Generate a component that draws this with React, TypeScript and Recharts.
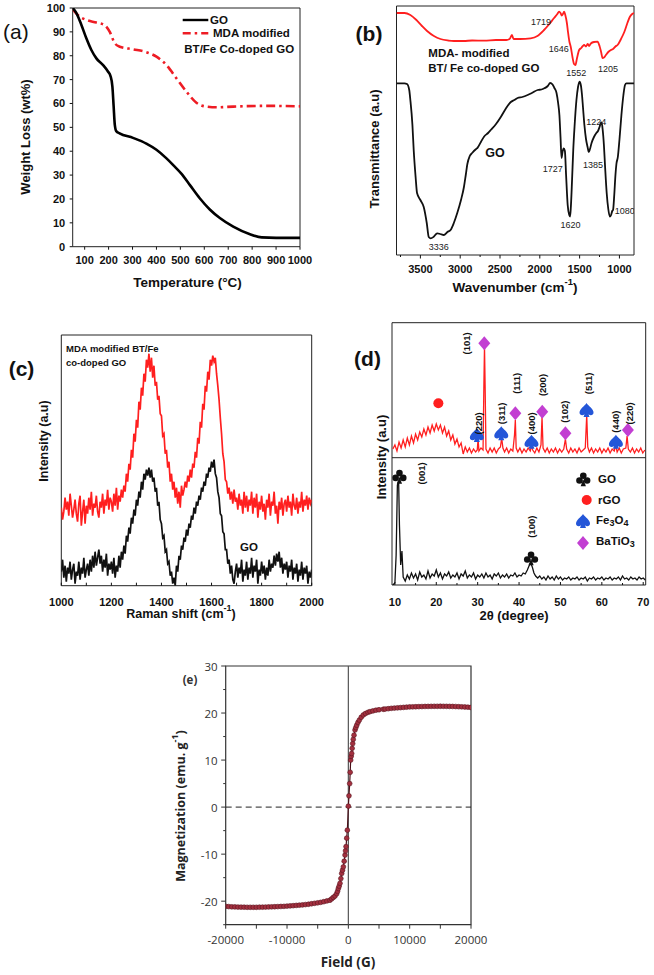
import React from 'react';
import { ComposedChart, Line, Scatter, XAxis, YAxis, ReferenceArea, ReferenceLine } from 'recharts';

const ARIAL = '"Liberation Sans", Arial, Helvetica, sans-serif';
const SANS = '"Open Sans", "Noto Sans", sans-serif';

// ---------------- (a) TGA ----------------
const tgaGO: [number, number][] = [
  [50, 100], [65, 98], [86, 93], [107, 87.3], [128, 82.4], [149, 78.9], [177, 76.1], [198, 73.3],
  [208, 71.5], [216, 67], [221, 59], [226, 51], [232, 48.4], [246, 47.5], [302, 45.6], [358, 43.2],
  [400, 40.6], [442, 37], [470, 34.2], [505, 30.5], [540, 25.8], [581, 20.3], [623, 15.6], [665, 12],
  [721, 8.4], [791, 5.2], [840, 3.9], [900, 3.7], [1000, 3.7],
];
const tgaMDA: [number, number][] = [
  [50, 99.5], [72, 97], [107, 95], [149, 93.9], [184, 92.8], [205, 90], [226, 85.2], [247, 83.8],
  [302, 82.7], [358, 81.5], [400, 79.6], [442, 76.1], [484, 70.5], [526, 64.9], [567, 60.3],
  [609, 58.7], [651, 58.4], [721, 58.7], [860, 59], [1000, 58.8],
];
const tgaXTicks = [100, 200, 300, 400, 500, 600, 700, 800, 900, 1000];
const tgaYTicks = [0, 10, 20, 30, 40, 50, 60, 70, 80, 90, 100];

// ---------------- (b) FTIR ----------------
const ftirMDA: [number, number][] = [
  [3800, 242], [3700, 242], [3626, 240], [3550, 235], [3480, 229], [3416, 224], [3330, 219], [3248, 216],
  [3150, 214.5], [3080, 214], [2955, 214], [2850, 214.5], [2700, 214.3], [2550, 215], [2420, 215],
  [2380, 216], [2350, 220], [2330, 216], [2250, 216], [2115, 216.7], [2030, 219], [1947, 225],
  [1880, 231], [1821, 237], [1780, 241], [1758, 243.3], [1740, 242], [1724, 239.5], [1710, 241],
  [1695, 243.3], [1680, 240], [1660, 232], [1646, 223], [1630, 214], [1611, 208], [1590, 198],
  [1570, 191], [1552, 190], [1535, 196], [1506, 205], [1480, 207], [1460, 209], [1443, 210],
  [1420, 208.5], [1400, 211], [1380, 209], [1359, 211.5], [1320, 213], [1275, 213.3], [1250, 209],
  [1230, 203], [1212, 197], [1195, 197.5], [1170, 200], [1140, 203], [1107, 205], [1080, 206],
  [1050, 208.5], [1023, 210], [980, 216], [939, 223], [900, 232], [870, 238], [840, 241], [817, 242],
];
const ftirGO: [number, number][] = [
  [3800, 171.7], [3700, 171.7], [3668, 171], [3640, 165], [3626, 155], [3600, 130], [3584, 105],
  [3560, 78], [3542, 62], [3500, 55], [3458, 48], [3420, 32], [3395, 18], [3370, 16.7], [3336, 18],
  [3289, 21.7], [3250, 21], [3206, 20], [3160, 23], [3121, 25], [3080, 32], [3037, 42], [2990, 55],
  [2953, 68], [2930, 80], [2910, 91], [2880, 99], [2850, 102], [2800, 106], [2784, 107], [2740, 113],
  [2701, 118.3], [2650, 122], [2616, 125], [2550, 131], [2490, 138], [2430, 146], [2364, 153],
  [2320, 155], [2279, 157], [2220, 158], [2153, 160], [2100, 162], [2027, 165], [1980, 165.5],
  [1943, 166.7], [1900, 169], [1870, 172], [1840, 170.5], [1817, 167], [1790, 162], [1770, 152],
  [1754, 140], [1740, 118], [1727, 97], [1715, 103], [1700, 106.7], [1685, 104], [1670, 80],
  [1650, 50], [1630, 40], [1620, 38.5], [1610, 48], [1595, 75], [1580, 105], [1564, 128],
  [1540, 155], [1520, 168], [1501, 173.3], [1485, 170], [1470, 160], [1458, 148], [1440, 130],
  [1420, 116], [1400, 108], [1385, 103], [1370, 106], [1350, 112], [1320, 118], [1290, 122],
  [1269, 124], [1250, 128], [1235, 131.7], [1224, 132.5], [1210, 125], [1195, 110], [1180, 88],
  [1160, 62], [1140, 46], [1120, 38.3], [1105, 40], [1090, 44], [1080, 45], [1065, 60], [1050, 80],
  [1038, 91], [1020, 98], [1000, 115], [975, 140], [950, 160], [930, 170], [912, 171.7], [817, 171.7],
];
const ftirPeakText = ['1719', '1646', '1552', '1205', '1224', '1727', '1385', '1620', '1080', '3336'];
const ftirPeakW = [1985, 1761, 1543, 1143, 1290, 1837, 1332, 1615, 933, 3269];
const ftirPeakV = [233.3, 205.7, 182.3, 185.7, 133, 85.7, 90, 29.7, 44.3, 7.7];
const ftirTicks = [3750, 3500, 3250, 3000, 2750, 2500, 2250, 2000, 1750, 1500, 1250, 1000];

// ---------------- (c) Raman ----------------
const ramanShift = [
  1000, 1005, 1010, 1015, 1020, 1025, 1030, 1035, 1040, 1045, 1050, 1055, 1060, 1065, 1070, 1075, 1080, 1085, 1090, 1095,
  1100, 1105, 1110, 1115, 1120, 1125, 1130, 1135, 1140, 1145, 1150, 1155, 1160, 1165, 1170, 1175, 1180, 1185, 1190, 1195,
  1200, 1205, 1210, 1215, 1220, 1225, 1230, 1235, 1240, 1245, 1250, 1255, 1260, 1265, 1270, 1275, 1280, 1285, 1290, 1295,
  1300, 1305, 1310, 1315, 1320, 1325, 1330, 1335, 1340, 1345, 1350, 1355, 1360, 1365, 1370, 1375, 1380, 1385, 1390, 1395,
  1400, 1405, 1410, 1415, 1420, 1425, 1430, 1435, 1440, 1445, 1450, 1455, 1460, 1465, 1470, 1475, 1480, 1485, 1490, 1495,
  1500, 1505, 1510, 1515, 1520, 1525, 1530, 1535, 1540, 1545, 1550, 1555, 1560, 1565, 1570, 1575, 1580, 1585, 1590, 1595,
  1600, 1605, 1610, 1615, 1620, 1625, 1630, 1635, 1640, 1645, 1650, 1655, 1660, 1665, 1670, 1675, 1680, 1685, 1690, 1695,
  1700, 1705, 1710, 1715, 1720, 1725, 1730, 1735, 1740, 1745, 1750, 1755, 1760, 1765, 1770, 1775, 1780, 1785, 1790, 1795,
  1800, 1805, 1810, 1815, 1820, 1825, 1830, 1835, 1840, 1845, 1850, 1855, 1860, 1865, 1870, 1875, 1880, 1885, 1890, 1895,
  1900, 1905, 1910, 1915, 1920, 1925, 1930, 1935, 1940, 1945, 1950, 1955, 1960, 1965, 1970, 1975, 1980, 1985, 1990, 1995,
  2000,
];
const ramanMDA = [
  78, 66, 74, 88, 76, 84, 70, 92, 80, 68, 76, 86, 72, 64, 82, 90, 60, 74, 86, 62,
  80, 72, 88, 76, 94, 70, 82, 78, 90, 74, 68, 84, 78, 92, 72, 86, 80, 96, 76, 88,
  84, 74, 92, 80, 98, 76, 90, 84, 96, 88, 100, 94, 112, 104, 122, 116, 136, 128, 152, 144,
  166, 158, 184, 176, 198, 190, 212, 204, 226, 218, 232, 214, 228, 208, 220, 200, 204, 186, 190, 172,
  170, 150, 152, 132, 136, 118, 124, 104, 112, 96, 104, 88, 98, 82, 94, 78, 100, 90, 96, 104,
  98, 110, 104, 116, 108, 122, 118, 134, 128, 148, 142, 164, 158, 182, 176, 200, 194, 214, 206, 226,
  220, 230, 224, 228, 212, 200, 186, 168, 152, 132, 124, 106, 104, 92, 98, 86, 94, 82, 96, 84,
  88, 76, 92, 80, 86, 72, 94, 78, 90, 74, 86, 80, 94, 72, 88, 78, 92, 68, 84, 76,
  90, 74, 82, 66, 86, 78, 92, 70, 84, 80, 94, 72, 80, 62, 84, 76, 88, 70, 82, 86,
  74, 90, 78, 84, 70, 92, 80, 76, 88, 72, 84, 78, 94, 74, 86, 80, 90, 76, 88, 82,
  86,
];
const ramanGO = [
  14, 26, 8, 20, 4, 18, 12, 24, 6, 16, 22, 2, 14, 10, 24, 6, 18, 12, 28, 8,
  16, 22, 10, 26, 14, 30, 18, 34, 20, 28, 36, 22, 30, 14, 26, 18, 32, 10, 22, 16,
  24, 12, 28, 8, 20, 14, 30, 18, 34, 26, 40, 32, 50, 44, 58, 52, 68, 62, 76, 70,
  86, 80, 94, 88, 104, 96, 112, 106, 116, 110, 118, 108, 116, 104, 108, 94, 98, 80, 84, 66,
  62, 48, 50, 34, 36, 22, 24, 10, 14, 2, 8, 0, 20, 14, 30, 26, 40, 36, 48, 44,
  56, 50, 62, 58, 70, 66, 78, 72, 84, 80, 90, 86, 98, 94, 104, 100, 112, 108, 118, 114,
  124, 118, 126, 112, 108, 94, 88, 72, 70, 54, 52, 36, 36, 22, 26, 12, 20, 6, 2, 14,
  22, 8, 18, 12, 26, 4, 16, 10, 24, 6, 18, 12, 28, 8, 20, 14, 26, 2, 16, 10,
  24, 12, 20, 6, 18, 10, 26, 14, 22, 18, 30, 20, 32, 24, 34, 18, 28, 12, 22, 16,
  24, 8, 20, 14, 26, 6, 18, 12, 22, 4, 16, 10, 24, 6, 18, 12, 20, 2, 14, 8,
  16,
];
const ramanTicks = [1000, 1100, 1200, 1300, 1400, 1500, 1600, 1700, 1800, 1900, 2000];

// ---------------- (d) XRD ----------------
const xrdMDA: [number, number][] = [
  [9.5, 136], [10, 140], [10.5, 134], [11, 143], [11.5, 137], [12, 145], [12.5, 138], [13, 147],
  [13.5, 140], [14, 149], [14.5, 142], [15, 151], [15.5, 145], [16, 153], [16.5, 148], [17, 156],
  [17.5, 150], [18, 158], [18.5, 152], [19, 160], [19.5, 154], [20, 161], [20.5, 155], [21, 160],
  [21.5, 152], [22, 158], [22.5, 149], [23, 154], [23.5, 145], [24, 150], [24.5, 141], [25, 146],
  [25.5, 138], [26, 142], [26.5, 131], [27, 138], [27.5, 133], [28, 137], [28.5, 132], [29, 136],
  [29.5, 133], [29.9, 135], [30.1, 146], [30.3, 134], [30.8, 137], [31.3, 135], [31.5, 200],
  [31.65, 239], [31.8, 200], [32.0, 136], [32.5, 132], [33, 137], [33.5, 133], [34, 137], [34.5, 132],
  [35, 136], [35.5, 138], [35.8, 147], [36.1, 137], [36.5, 133], [37, 137], [37.5, 132], [38, 136],
  [38.5, 134], [38.9, 150], [39.1, 165], [39.3, 137], [39.7, 133], [40.2, 137], [40.7, 132],
  [41.2, 136], [41.7, 133], [42.2, 137], [42.7, 134], [43.0, 139], [43.3, 135], [43.8, 132],
  [44.3, 137], [44.8, 133], [45.3, 140], [45.55, 168], [45.8, 137], [46.3, 133], [46.8, 137],
  [47.3, 132], [47.8, 136], [48.3, 133], [48.8, 137], [49.3, 132], [49.8, 136], [50.3, 133],
  [50.8, 136], [51.2, 146], [51.5, 136], [52, 132], [52.5, 137], [53, 133], [53.5, 136], [54, 132],
  [54.5, 137], [55, 133], [55.5, 135], [56.0, 137], [56.35, 170], [56.6, 138], [57, 133], [57.5, 137],
  [58, 132], [58.5, 136], [59, 133], [59.5, 137], [60, 132], [60.5, 136], [61, 133], [61.5, 137],
  [62, 132], [62.5, 136], [63, 134], [63.35, 140], [63.7, 133], [64.2, 137], [64.7, 132], [65.2, 136],
  [65.8, 137], [66.1, 149], [66.4, 136], [66.9, 133], [67.4, 137], [67.9, 132], [68.4, 136],
  [68.9, 133], [69.4, 137], [69.9, 132], [70.4, 135],
];
const xrdGO: [number, number][] = [
  [9.5, 0], [10, 2], [10.3, 30], [10.6, 100], [10.9, 104], [11.1, 60], [11.4, 20], [11.7, 34], [12, 8],
  [12.5, 4], [13, 10], [13.5, 6], [14, 12], [14.5, 7], [15, 11], [15.5, 5], [16, 13], [16.5, 8], [17, 10],
  [17.5, 6], [18, 14], [18.5, 7], [19, 11], [19.5, 9], [20, 15], [20.5, 8], [21, 12], [21.5, 6], [22, 11],
  [22.5, 9], [23, 13], [23.5, 7], [24, 10], [24.5, 8], [25, 12], [25.5, 6], [26, 11], [26.5, 9], [27, 14],
  [27.5, 7], [28, 10], [28.5, 8], [29, 12], [29.5, 6], [30, 10], [30.5, 8], [31, 11], [31.5, 7], [32, 12],
  [32.5, 8], [33, 10], [33.5, 6], [34, 11], [34.5, 9], [35, 12], [35.5, 7], [36, 10], [36.5, 8], [37, 11],
  [37.5, 7], [38, 10], [38.5, 9], [39, 12], [39.5, 8], [40, 10], [40.5, 9], [41, 12], [41.5, 11], [42, 15],
  [42.4, 19], [42.8, 22], [43.2, 18], [43.6, 12], [44, 9], [44.5, 7], [45, 9], [45.5, 6], [46, 8],
  [46.5, 5], [47, 9], [47.5, 6], [48, 8], [48.5, 5], [49, 9], [49.5, 6], [50, 8], [50.5, 5], [51, 7],
  [51.5, 6], [52, 8], [52.5, 5], [53, 7], [53.5, 6], [54, 8], [54.5, 5], [55, 7], [55.5, 6], [56, 8],
  [56.5, 4], [57, 7], [57.5, 6], [58, 8], [58.5, 5], [59, 7], [59.5, 6], [60, 8], [60.5, 5], [61, 7],
  [61.5, 6], [62, 8], [62.5, 5], [63, 7], [63.5, 6], [64, 8], [64.5, 5], [65, 9], [65.5, 6], [66, 7],
  [66.5, 5], [67, 8], [67.5, 6], [68, 7], [68.5, 5], [69, 8], [69.5, 6], [70, 7], [70.5, 5],
];
const xrdMarkAngle = [20.5, 29.8, 31.6, 35.7, 39.1, 43.0, 45.6, 51.2, 56.3, 63.4, 66.3, 11.1, 42.9];
const xrdMarkHeight = [181.7, 150, 241.7, 151.7, 171.7, 143.3, 173.3, 151.7, 175, 143.3, 155, 108.3, 26.7];
const xrdMarkKind = ['circle', 'spade', 'diamond', 'spade', 'diamond', 'spade', 'diamond', 'diamond', 'spade', 'spade', 'diamond', 'club', 'club'];
const xrdHkl = ['(101)', '(220)', '(311)', '(111)', '(400)', '(200)', '(102)', '(511)', '(440)', '(220)', '(001)', '(100)'];
const xrdHklAngle = [27.3, 30.1, 35.8, 39.4, 43.0, 45.6, 51.1, 56.7, 63.4, 66.8, 16.4, 42.9];
const xrdHklHeight = [241.7, 161.7, 171.7, 201.7, 161.7, 200, 173.3, 201.7, 163.3, 171.7, 111.7, 58.3];
const xrdTicks = [10, 15, 20, 25, 30, 35, 40, 45, 50, 55, 60, 65, 70];

// ---------------- (e) VSM ----------------
const vsmField = [
  -20000, -19500, -19000, -18500, -18000, -17500, -17000, -16500, -16000, -15500, -15000, -14500,
  -14000, -13500, -13000, -12500, -12000, -11500, -11000, -10500, -10000, -9500, -9000, -8500, -8000,
  -7500, -7000, -6500, -6000, -5500, -5000, -4500, -4000, -3500, -3000, -2720, -2450, -2170, -1900,
  -1760, -1630, -1500, -1360, -1220, -1087, -950, -815, -680, -543, -460, -380, -270, -163, 0,
  100, 217, 300, 380, 460, 543, 620, 707, 800, 924, 1087, 1220, 1360, 1570, 1793, 2100, 2446, 2800,
  3200, 3533, 4000, 4500, 5000, 5700, 6000, 6500, 7000, 7500, 8000, 8500, 9000, 9500, 10000, 10500,
  11000, 11500, 12000, 12500, 13000, 13500, 14000, 14500, 15000, 15500, 16000, 16500, 17000, 17500,
  18000, 18500, 19000, 19500, 20000,
];
const vsmMag = [
  -21.1, -21.15, -21.2, -21.22, -21.25, -21.27, -21.28, -21.3, -21.3, -21.3, -21.3, -21.28,
  -21.27, -21.25, -21.23, -21.2, -21.18, -21.15, -21.12, -21.1, -21.05, -21.0, -20.95, -20.9, -20.85,
  -20.8, -20.72, -20.65, -20.55, -20.45, -20.35, -20.25, -20.1, -19.95, -19.8, -19.5, -19.2, -18.9, -18.4,
  -17.9, -17.3, -16.8, -16.2, -15.2, -14.1, -13.4, -12.7, -11.5, -10.2, -9.3, -8.4, -6.6, -4.9, 0.2,
  2.4, 5.0, 7.4, 10.0, 10.8, 11.4, 12.5, 13.5, 14.4, 15.3, 16.4, 16.9, 17.4, 18.0, 18.5, 19.1, 19.6, 19.9,
  20.15, 20.3, 20.45, 20.6, 20.7, 20.8, 20.85, 20.92, 21.0, 21.05, 21.1, 21.15, 21.2, 21.25, 21.3, 21.32,
  21.34, 21.36, 21.38, 21.4, 21.41, 21.42, 21.43, 21.43, 21.44, 21.43, 21.42, 21.41, 21.4, 21.38,
  21.35, 21.32, 21.28, 21.24, 21.18,
];
const vsmXTicks = [-20000, -15000, -10000, -5000, 0, 5000, 10000, 15000, 20000];
const vsmYTicks = [-25, -20, -15, -10, -5, 0, 5, 10, 15, 20, 25, 30];

// ---------------- helpers ----------------
const pts = (a: [number, number][]) => a.map(([x, y]) => ({ x, y }));
const zipPts = (xs: number[], ys: number[]) => xs.map((x, i) => ({ x, y: ys[i] }));

type TickOpts = {
  axis: 'x' | 'y';
  len: (v: number) => number;
  inward?: boolean;
  off: number;
  size: number;
  weight: number | string;
  family: string;
  label: (v: number) => string;
  color?: string;
};
const mkTick = (o: TickOpts) => (p: any) => {
  const { x, y, payload } = p;
  const v = payload.value as number;
  const L = o.len(v);
  const s = o.inward ? -1 : 1;
  const t = o.label(v);
  const col = o.color || '#111';
  if (o.axis === 'x') {
    return (
      <g>
        {L > 0 && <line x1={x} x2={x} y1={y} y2={y + s * L} stroke={col} strokeWidth={1} />}
        {t && (
          <text x={x} y={y + o.off} textAnchor="middle" dominantBaseline="central" fontSize={o.size}
            fontWeight={o.weight} fontFamily={o.family} fill={col}>{t}</text>
        )}
      </g>
    );
  }
  return (
    <g>
      {L > 0 && <line x1={x} x2={x - s * L} y1={y} y2={y} stroke={col} strokeWidth={1} />}
      {t && (
        <text x={x - o.off} y={y} textAnchor="end" dominantBaseline="central" fontSize={o.size}
          fontWeight={o.weight} fontFamily={o.family} fill={col}>{t}</text>
      )}
    </g>
  );
};

const BLUE = '#2456d8';
const MAGENTA = '#c23fd2';
const RED = '#ff1f1f';

const MarkerShape = ({ cx, cy, kind }: { cx: number; cy: number; kind: string }) => {
  if (kind === 'circle') return <circle cx={cx} cy={cy} r={5} fill={RED} />;
  if (kind === 'diamond')
    return <path d={`M${cx},${cy - 7} L${cx + 6},${cy} L${cx},${cy + 7} L${cx - 6},${cy} Z`} fill={MAGENTA} />;
  if (kind === 'spade')
    return (
      <path
        transform={`translate(${cx},${cy})`}
        d="M0,-7 C2,-4 7,-1 7,2.5 C7,5.2 4,6 2,4.3 L3,7 L-3,7 L-2,4.3 C-4,6 -7,5.2 -7,2.5 C-7,-1 -2,-4 0,-7 Z"
        fill={BLUE}
      />
    );
  return (
    <g transform={`translate(${cx},${cy})`} fill="#111">
      <circle cx={0} cy={-3.6} r={3.3} />
      <circle cx={-3.8} cy={1.2} r={3.3} />
      <circle cx={3.8} cy={1.2} r={3.3} />
      <path d="M0,0 L-2.6,7 L2.6,7 Z" />
    </g>
  );
};

const boldTick = (axis: 'x' | 'y', off: number, len: (v: number) => number, label: (v: number) => string, inward = false) =>
  mkTick({ axis, len, inward, off, size: 11, weight: 700, family: ARIAL, label });

// ---------------- panels ----------------
const PanelA = () => (
  <ComposedChart width={326} height={275} margin={{ top: 8, right: 26, left: 0, bottom: 0 }}>
    <XAxis type="number" dataKey="x" domain={[50, 1000]} ticks={tgaXTicks} interval={0} height={28.3}
      tickSize={0} tickMargin={0} tickLine={false} axisLine={false} allowDataOverflow
      tick={boldTick('x', 12.8, () => 3, (v) => String(v))} />
    <YAxis type="number" dataKey="y" domain={[0, 100]} ticks={tgaYTicks} interval={0} width={72.7}
      tickSize={0} tickMargin={0} tickLine={false} axisLine={false} allowDataOverflow
      tick={boldTick('y', 7.5, () => 3, (v) => String(v))} />
    <ReferenceArea x1={50} x2={1000} y1={0} y2={100} fill="none" fillOpacity={0} stroke="#222" strokeWidth={1} ifOverflow="visible" />
    <Line data={pts(tgaMDA)} dataKey="y" type="monotone" stroke="#ee1c24" strokeWidth={2.6}
      strokeDasharray="9 4 2.5 4" dot={false} isAnimationActive={false} />
    <Line data={pts(tgaGO)} dataKey="y" type="monotone" stroke="#000" strokeWidth={2.6} dot={false} isAnimationActive={false} />
  </ComposedChart>
);

const PanelB = () => (
  <ComposedChart width={324} height={290} margin={{ top: 6, right: 20, left: 0, bottom: 0 }}>
    <XAxis type="number" dataKey="x" domain={[817, 3800]} reversed ticks={ftirTicks} interval={0} height={35}
      tickSize={0} tickMargin={0} tickLine={false} axisLine={false} allowDataOverflow
      tick={boldTick('x', 14.3, (v) => (v % 500 === 0 ? 3.5 : 2), (v) => (v % 500 === 0 ? String(v) : ''))} />
    <YAxis type="number" dataKey="y" domain={[0, 249]} width={66.5} tick={false} tickLine={false} axisLine={false} allowDataOverflow />
    <ReferenceArea x1={817} x2={3800} y1={0} y2={249} fill="none" fillOpacity={0} stroke="#222" strokeWidth={1} ifOverflow="visible" />
    <Line data={pts(ftirMDA)} dataKey="y" type="monotone" stroke={RED} strokeWidth={1.8} dot={false} isAnimationActive={false} />
    <Line data={pts(ftirGO)} dataKey="y" type="monotone" stroke="#111" strokeWidth={1.8} dot={false} isAnimationActive={false} />
    <Scatter data={zipPts(ftirPeakW, ftirPeakV).map((p, i) => ({ ...p, t: ftirPeakText[i] }))} dataKey="y" isAnimationActive={false}
      shape={(p: any) => (
        <text x={p.cx} y={p.cy} textAnchor="middle" dominantBaseline="central" fontSize={9} fontFamily={ARIAL} fill="#222">
          {p.payload.t}
        </text>
      )} />
  </ComposedChart>
);

const PanelC = () => (
  <ComposedChart width={328} height={300} margin={{ top: 15, right: 16.3, left: 0, bottom: 0 }}>
    <XAxis type="number" dataKey="x" domain={[1000, 2000]} ticks={ramanTicks} interval={0} height={34.3}
      tickSize={0} tickMargin={0} tickLine={false} axisLine={false} allowDataOverflow
      tick={boldTick('x', 16, () => 3, (v) => (v % 200 === 0 ? String(v) : ''), true)} />
    <YAxis type="number" dataKey="y" domain={[0, 250.7]} width={61.3} tick={false} tickLine={false} axisLine={false} allowDataOverflow />
    <ReferenceArea x1={1000} x2={2000} y1={0} y2={250.7} fill="none" fillOpacity={0} stroke="#222" strokeWidth={1} ifOverflow="visible" />
    <Line data={zipPts(ramanShift, ramanMDA)} dataKey="y" type="linear" stroke={RED} strokeWidth={1.7} dot={false} isAnimationActive={false} />
    <Line data={zipPts(ramanShift, ramanGO)} dataKey="y" type="linear" stroke="#111" strokeWidth={1.7} dot={false} isAnimationActive={false} />
  </ComposedChart>
);

const PanelD = () => (
  <ComposedChart width={324} height={310} margin={{ top: 12.7, right: 8.3, left: 0, bottom: 0 }}>
    <XAxis type="number" dataKey="x" domain={[9.3, 70.6]} ticks={xrdTicks} interval={0} height={35}
      tickSize={0} tickMargin={0} tickLine={false} axisLine={false} allowDataOverflow
      tick={boldTick('x', 17, (v) => (v % 10 === 0 ? 3 : 2), (v) => (v % 10 === 0 ? String(v) : ''), true)} />
    <YAxis type="number" dataKey="y" domain={[0, 262.3]} width={62} tick={false} tickLine={false} axisLine={false} allowDataOverflow />
    <ReferenceArea x1={9.3} x2={70.6} y1={0} y2={262.3} fill="none" fillOpacity={0} stroke="#222" strokeWidth={1} ifOverflow="visible" />
    <ReferenceLine y={127.3} stroke="#222" strokeWidth={1} />
    <Line data={pts(xrdMDA)} dataKey="y" type="linear" stroke={RED} strokeWidth={1.3} dot={false} isAnimationActive={false} />
    <Line data={pts(xrdGO)} dataKey="y" type="linear" stroke="#111" strokeWidth={1.3} dot={false} isAnimationActive={false} />
    <Scatter data={zipPts(xrdMarkAngle, xrdMarkHeight).map((p, i) => ({ ...p, k: xrdMarkKind[i] }))} dataKey="y" isAnimationActive={false}
      shape={(p: any) => <MarkerShape cx={p.cx} cy={p.cy} kind={p.payload.k} />} />
    <Scatter data={zipPts(xrdHklAngle, xrdHklHeight).map((p, i) => ({ ...p, t: xrdHkl[i] }))} dataKey="y" isAnimationActive={false}
      shape={(p: any) => (
        <text x={p.cx} y={p.cy} transform={`rotate(-90 ${p.cx} ${p.cy})`} textAnchor="middle" dominantBaseline="central"
          fontSize={9.5} fontWeight={700} fontFamily={ARIAL} fill="#111">{p.payload.t}</text>
      )} />
  </ComposedChart>
);

const PanelE = () => (
  <ComposedChart width={355} height={300} margin={{ top: 16, right: 34, left: 0, bottom: 0 }}>
    <XAxis type="number" dataKey="x" domain={[-20000, 20000]} ticks={vsmXTicks} interval={0} height={25.3}
      tickSize={0} tickMargin={0} tickLine={false} axisLine={false} allowDataOverflow
      tick={mkTick({ axis: 'x', len: () => 4, off: 15, size: 11.5, weight: 400, family: SANS, color: '#333',
        label: (v) => (v % 10000 === 0 ? String(v) : '') })} />
    <YAxis type="number" dataKey="y" domain={[-25, 30]} ticks={vsmYTicks} interval={0} width={75.7}
      tickSize={0} tickMargin={0} tickLine={false} axisLine={false} allowDataOverflow
      tick={mkTick({ axis: 'y', len: (v) => (v % 10 === 0 ? 4.5 : 2.5), off: 8, size: 11.5, weight: 400, family: SANS, color: '#333',
        label: (v) => (v % 10 === 0 ? String(v) : '') })} />
    <ReferenceArea x1={-20000} x2={20000} y1={-25} y2={30} fill="none" fillOpacity={0} stroke="#333" strokeWidth={1.2} ifOverflow="visible" />
    <ReferenceLine y={0} stroke="#222" strokeWidth={1} strokeDasharray="6 4" />
    <ReferenceLine x={0} stroke="#555" strokeWidth={1.2} />
    <Line data={zipPts(vsmField, vsmMag)} dataKey="y" type="linear" stroke="#4a0f18" strokeWidth={1.2} isAnimationActive={false}
      dot={(p: any) => (
        <circle key={`d${p.index}`} cx={p.cx} cy={p.cy} r={2.4} fill="#a3303f" stroke="#5a1520" strokeWidth={0.6} />
      )} />
  </ComposedChart>
);

const T = (props: any) => <text fontFamily={ARIAL} fill="#111" {...props} />;

const Overlay = () => (
  <svg width={654} height={975} style={{ position: 'absolute', left: 0, top: 0, pointerEvents: 'none' }}>
    {/* panel letters */}
    <T x={15.8} y={31} fontSize={21} textAnchor="middle" dominantBaseline="central">(a)</T>
    <T x={369} y={33} fontSize={21} fontWeight={700} textAnchor="middle" dominantBaseline="central">(b)</T>
    <T x={21.5} y={368} fontSize={21} fontWeight={700} textAnchor="middle" dominantBaseline="central">(c)</T>
    <T x={367.5} y={358} fontSize={21} fontWeight={700} textAnchor="middle" dominantBaseline="central">(d)</T>
    <T x={190} y={679} fontSize={11.5} fontWeight={700} textAnchor="middle" dominantBaseline="central" fontFamily={SANS} fill="#333">(e)</T>

    {/* axis titles */}
    <T x={25} y={137} fontSize={13} fontWeight={700} textAnchor="middle" dominantBaseline="central" transform="rotate(-90 25 137)">Weight Loss (wt%)</T>
    <T x={187.5} y={282} fontSize={13.5} fontWeight={700} textAnchor="middle" dominantBaseline="central">Temperature (°C)</T>
    <T x={374} y={149} fontSize={13} fontWeight={700} textAnchor="middle" dominantBaseline="central" transform="rotate(-90 374 149)">Transmittance (a.u)</T>
    <T x={515} y={287} fontSize={13.5} fontWeight={700} textAnchor="middle" dominantBaseline="central">
      Wavenumber (cm<tspan dy={-6} fontSize={9.5}>-1</tspan><tspan dy={6}>)</tspan>
    </T>
    <T x={44} y={441} fontSize={12.5} fontWeight={700} textAnchor="middle" dominantBaseline="central" transform="rotate(-90 44 441)">Intensity (a.u)</T>
    <T x={181} y={614} fontSize={12.5} fontWeight={700} textAnchor="middle" dominantBaseline="central">
      Raman shift (cm<tspan dy={-6} fontSize={9}>-1</tspan><tspan dy={6}>)</tspan>
    </T>
    <T x={381} y={457} fontSize={13} fontWeight={700} textAnchor="middle" dominantBaseline="central" transform="rotate(-90 381 457)">Intensity (a.u)</T>
    <T x={514} y={615} fontSize={13} fontWeight={700} textAnchor="middle" dominantBaseline="central">2θ (degree)</T>
    <T x={180} y={806} fontSize={12.5} fontWeight={700} textAnchor="middle" dominantBaseline="central" transform="rotate(-90 180 806)" fontFamily={SANS} fill="#222">
      Magnetization (emu. g<tspan dy={-6} fontSize={9}>-1</tspan><tspan dy={6}>)</tspan>
    </T>
    <T x={348} y={962} fontSize={13.5} fontWeight={700} textAnchor="middle" dominantBaseline="central" fontFamily={SANS} fill="#222">Field (G)</T>

    {/* (a) legend */}
    <line x1={182.7} x2={208.3} y1={20} y2={20} stroke="#000" strokeWidth={2.4} />
    <T x={210} y={20} fontSize={11.5} fontWeight={700} dominantBaseline="central">GO</T>
    <line x1={182.7} x2={208.3} y1={33.3} y2={33.3} stroke="#ee1c24" strokeWidth={2.4} strokeDasharray="8 4 2.5 4" />
    <T x={213} y={33.3} fontSize={11.5} fontWeight={700} dominantBaseline="central">MDA modified</T>
    <T x={184.3} y={49.3} fontSize={11.5} fontWeight={700} dominantBaseline="central">BT/Fe Co-doped GO</T>

    {/* (b) labels */}
    <T x={428.3} y={53.3} fontSize={11.5} fontWeight={700} dominantBaseline="central">MDA- modified</T>
    <T x={428.3} y={68.3} fontSize={11.5} fontWeight={700} dominantBaseline="central">BT/ Fe co-doped GO</T>
    <T x={495} y={153.3} fontSize={12.5} fontWeight={700} textAnchor="middle" dominantBaseline="central">GO</T>

    {/* (c) labels */}
    <T x={66} y={348.7} fontSize={9.5} fontWeight={700} dominantBaseline="central">MDA modified BT/Fe</T>
    <T x={66} y={362} fontSize={9.5} fontWeight={700} dominantBaseline="central">co-doped GO</T>
    <T x={249} y={547} fontSize={11.5} fontWeight={700} textAnchor="middle" dominantBaseline="central">GO</T>

    {/* (d) legend */}
    <MarkerShape cx={583.3} cy={479.3} kind="club" />
    <T x={598} y={479.3} fontSize={11.5} fontWeight={700} dominantBaseline="central">GO</T>
    <MarkerShape cx={586.7} cy={500} kind="circle" />
    <T x={598} y={500} fontSize={11.5} fontWeight={700} dominantBaseline="central">rGO</T>
    <MarkerShape cx={583} cy={521} kind="spade" />
    <T x={596} y={520} fontSize={11.5} fontWeight={700} dominantBaseline="central">
      Fe<tspan dy={3} fontSize={9}>3</tspan><tspan dy={-3}>O</tspan><tspan dy={3} fontSize={9}>4</tspan>
    </T>
    <MarkerShape cx={583} cy={543} kind="diamond" />
    <T x={596} y={541} fontSize={11.5} fontWeight={700} dominantBaseline="central">
      BaTiO<tspan dy={3} fontSize={9}>3</tspan>
    </T>
  </svg>
);

const Abs = ({ left, top, children }: { left: number; top: number; children: React.ReactNode }) => (
  <div style={{ position: 'absolute', left, top }}>{children}</div>
);

export default function App() {
  return (
    <div style={{ position: 'absolute', left: 0, top: 0, width: 654, height: 975, background: '#fff', overflow: 'hidden' }}>
      <Abs left={0} top={0}><PanelA /></Abs>
      <Abs left={330} top={0}><PanelB /></Abs>
      <Abs left={0} top={320}><PanelC /></Abs>
      <Abs left={330} top={310}><PanelD /></Abs>
      <Abs left={150} top={650}><PanelE /></Abs>
      <Overlay />
    </div>
  );
}
